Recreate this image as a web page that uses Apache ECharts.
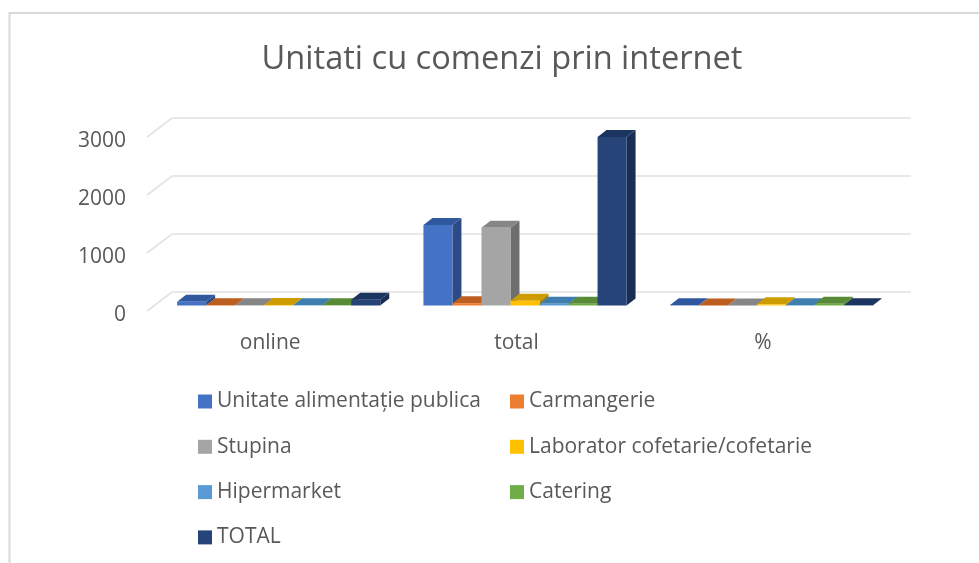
<!DOCTYPE html>
<html><head><meta charset="utf-8">
<style>html,body{margin:0;padding:0;background:#fff}#c{width:979px;height:563px}</style>
<script src="https://cdn.jsdelivr.net/npm/echarts@6/dist/echarts.min.js"></script>
</head><body><div id="c"></div>
<script>
const categories = ['online','total','%'];
const yTicks = [0,1000,2000,3000];
const seriesNames = ['Unitate alimentație publica','Carmangerie','Stupina','Laborator cofetarie/cofetarie','Hipermarket','Catering','TOTAL'];
const unitate = [63,1388,4];
const carmangerie = [5,40,1];
const stupina = [5,1340,1];
const laborator = [10,80,20];
const hipermarket = [3,30,5];
const catering = [3,30,30];
const total = [100,2905,4];
const colors = ['#4472C4','#ED7D31','#A5A5A5','#FFC000','#5B9BD5','#70AD47','#264478'];
const topColors = ['#30589F','#BC5E1F','#868686','#CF9C00','#3F7FAF','#588A37','#1C3560'];
const sideColors = ['#2B4A86','#A8501B','#6E6E6E','#B08600','#37709F','#4C7830','#1A2D52'];
const allValues = [unitate,carmangerie,stupina,laborator,hipermarket,catering,total];

const FF = '"Open Sans","Noto Sans",sans-serif';
const BAR_RATIO = 0.1178, SHIFT_X = 8.5, SHIFT_Y = 5.5, DEPTH_X = 9, DEPTH_Y = 7, WALL_X = 25, WALL_Y = 19;

function barRender(si){
  return function(params, api){
    const cat = api.value(0), v = api.value(1);
    const base = api.coord([cat,0]), top = api.coord([cat,v]);
    const band = api.size([1,0])[0], w = band*BAR_RATIO;
    const x0 = base[0] + (si-3)*w - w/2 + SHIFT_X, x1 = x0 + w;
    const yb = base[1]-SHIFT_Y, yt = top[1]-SHIFT_Y;
    return {type:'group',children:[
      {type:'polygon',shape:{points:[[x1,yb],[x1+DEPTH_X,yb-DEPTH_Y],[x1+DEPTH_X,yt-DEPTH_Y],[x1,yt]]},style:{fill:sideColors[si]}},
      {type:'polygon',shape:{points:[[x0,yt],[x0+DEPTH_X,yt-DEPTH_Y],[x1+DEPTH_X,yt-DEPTH_Y],[x1,yt]]},style:{fill:topColors[si]}},
      {type:'rect',shape:{x:x0,y:yt,width:w,height:yb-yt},style:{fill:colors[si]}}
    ]};
  };
}
const barSeries = seriesNames.map((name,si)=>({
  type:'custom',name,z:5,clip:false,
  itemStyle:{color:colors[si]},
  encode:{x:0,y:1},
  data:categories.map((c,i)=>[i,allValues[si][i]]),
  renderItem:barRender(si)
}));
const gridSeries = {
  type:'custom',silent:true,z:1,clip:false,
  encode:{y:1},
  data:yTicks.map(t=>[0,t]),
  renderItem(params,api){
    const v = api.value(1);
    const band = api.size([1,0])[0];
    const l = api.coord([0,v]), r = api.coord([categories.length-1,v]);
    const lx = l[0]-band/2, rx = r[0]+band/2;
    return {type:'polyline',shape:{points:[[lx,l[1]],[lx+WALL_X,l[1]-WALL_Y],[rx+WALL_X,r[1]-WALL_Y]]},style:{fill:'none',stroke:'#E2E2E2',lineWidth:1.6}};
  }
};
const legendCommon = {orient:'vertical',icon:'rect',itemWidth:14,itemHeight:14,itemGap:24.3,
  textStyle:{fontFamily:FF,fontSize:21,color:'#595959'},selectedMode:false,padding:0};
const chart = echarts.init(document.getElementById('c'),null,{renderer:'canvas'});
chart.setOption({
  animation:false,backgroundColor:'#fff',
  graphic:[{type:'polyline',z:0,shape:{points:[[9.5,563],[9.5,13],[979,13]]},style:{fill:'none',stroke:'#D9D9D9',lineWidth:2}}],
  title:{text:'Unitati cu comenzi prin internet',left:497,top:38,textAlign:'center',
    textStyle:{fontFamily:FF,fontSize:32.6,fontWeight:'normal',color:'#595959'}},
  legend:[
    Object.assign({},legendCommon,{left:198,top:391,data:[seriesNames[0],seriesNames[2],seriesNames[4],seriesNames[6]]}),
    Object.assign({},legendCommon,{left:510,top:391,data:[seriesNames[1],seriesNames[3],seriesNames[5]]})
  ],
  grid:{left:147,right:93,top:137,bottom:252,containLabel:false},
  xAxis:{type:'category',data:categories,axisLine:{show:false},axisTick:{show:false},
    axisLabel:{fontFamily:FF,fontSize:21,color:'#595959',margin:22}},
  yAxis:{type:'value',min:0,max:3000,interval:1000,axisLine:{show:false},axisTick:{show:false},splitLine:{show:false},
    axisLabel:{fontFamily:FF,fontSize:21,color:'#595959',margin:21,verticalAlign:'top',lineHeight:8,formatter:v=>String(v)}},
  series:[gridSeries].concat(barSeries)
});
</script></body></html>
